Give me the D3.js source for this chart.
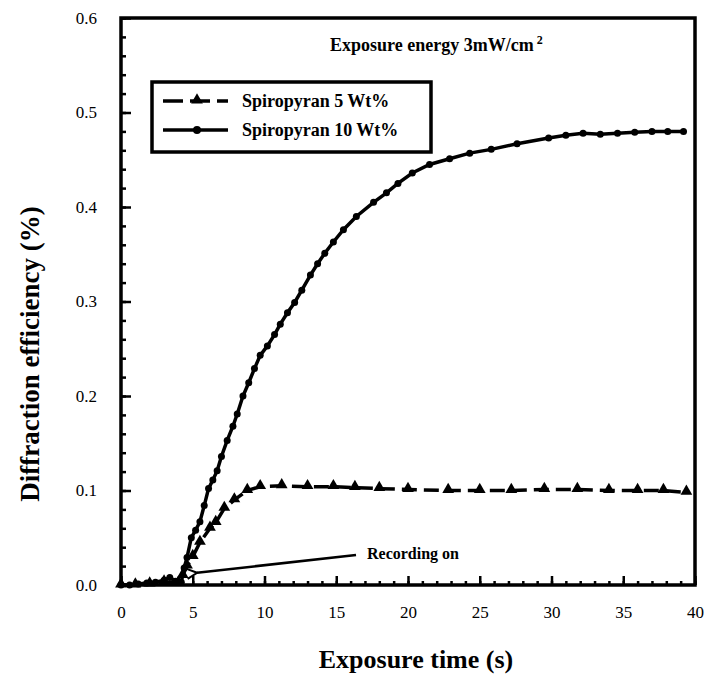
<!DOCTYPE html>
<html>
<head>
<meta charset="utf-8">
<script src="https://cdn.jsdelivr.net/npm/d3@7"></script>
<style>
  body { margin: 0; background: #fff; }
  svg text { font-family: "Liberation Serif", Tinos, "Times New Roman", serif !important; }
</style>
</head>
<body>
<div id="chart"></div>
<script>
// Spiropyran 10 Wt% (solid line, circles)
const time10 = [0, 0.6, 1.2, 1.8, 2.4, 3.0, 3.4, 3.8, 4.2, 4.4, 4.6, 4.9, 5.2, 5.5, 5.8, 6.1, 6.4, 6.7, 7.0, 7.4,
  7.8, 8.1, 8.5, 8.9, 9.3, 9.7, 10.2, 10.7, 11.1, 11.6, 12.1, 12.6, 13.2, 13.7, 14.2, 14.8, 15.5, 16.4, 17.6,
  18.5, 19.3, 20.3, 21.5, 22.9, 24.3, 25.8, 27.6, 29.8, 31.0, 32.2, 33.4, 34.6, 35.8, 37.0, 38.1, 39.2];
const eff10 = [0, 0, 0.001, 0.002, 0.003, 0.005, 0.008, 0.004, 0.003, 0.018, 0.029, 0.05, 0.058, 0.067, 0.084,
  0.102, 0.111, 0.121, 0.136, 0.153, 0.168, 0.181, 0.2, 0.214, 0.229, 0.243, 0.253, 0.265, 0.276, 0.288, 0.299,
  0.312, 0.328, 0.34, 0.351, 0.363, 0.376, 0.39, 0.405, 0.415, 0.425, 0.436, 0.445, 0.451, 0.457, 0.461, 0.467,
  0.473, 0.476, 0.478, 0.477, 0.478, 0.479, 0.48, 0.48, 0.48];

// Spiropyran 5 Wt% (dashed line, triangles)
const time5 = [0, 1, 2, 3, 4, 4.3, 4.6, 5.0, 5.5, 6.2, 6.6, 7.2, 7.9, 8.8, 9.7, 11.2, 13.0, 14.8, 16.3, 18.0,
  20.0, 22.8, 25.0, 27.2, 29.5, 31.8, 34.0, 36.0, 37.8, 39.4];
const eff5 = [0, 0, 0.001, 0.003, 0.002, 0.01, 0.02, 0.03, 0.045, 0.06, 0.066, 0.081, 0.09, 0.1, 0.104, 0.105,
  0.104, 0.104, 0.103, 0.102, 0.101, 0.1, 0.1, 0.1, 0.101, 0.101, 0.1, 0.1, 0.1, 0.098];

const xTicks = [0, 5, 10, 15, 20, 25, 30, 35, 40];
const yTicks = [0, 0.1, 0.2, 0.3, 0.4, 0.5, 0.6];
const seriesNames = ['Spiropyran 5 Wt%', 'Spiropyran 10 Wt%'];

const width = 705, height = 679;
const margin = { top: 18, right: 10, bottom: 94, left: 121 };

const svg = d3.select('#chart')
  .append('svg')
  .attr('width', width)
  .attr('height', height);

const x = d3.scaleLinear().domain([0, 40]).range([margin.left, width - margin.right]);
const y = d3.scaleLinear().domain([0, 0.6]).range([height - margin.bottom, margin.top]);

// minor ticks first
svg.append('g')
  .attr('transform', `translate(0,${y(0)})`)
  .call(d3.axisBottom(x).tickValues(d3.range(0, 41, 1)).tickSize(-4).tickFormat(''))
  .call((g) => g.select('.domain').remove())
  .call((g) => g.selectAll('line').attr('stroke-width', 2.5));

svg.append('g')
  .attr('transform', `translate(${x(0)},0)`)
  .call(d3.axisLeft(y).tickValues(d3.range(0, 0.61, 0.02)).tickSize(-5).tickFormat(''))
  .call((g) => g.select('.domain').remove())
  .call((g) => g.selectAll('line').attr('stroke-width', 2.5));

// major ticks with labels
svg.append('g')
  .attr('transform', `translate(0,${y(0)})`)
  .call(d3.axisBottom(x).tickValues(xTicks).tickSize(-9).tickPadding(21).tickFormat(d3.format('d')))
  .call((g) => g.select('.domain').remove())
  .call((g) => g.selectAll('line').attr('stroke-width', 2.5))
  .call((g) => g.selectAll('text').attr('font-size', 17));

svg.append('g')
  .attr('transform', `translate(${x(0)},0)`)
  .call(d3.axisLeft(y).tickValues(yTicks).tickSize(-10).tickPadding(24).tickFormat(d3.format('.1f')))
  .call((g) => g.select('.domain').remove())
  .call((g) => g.selectAll('line').attr('stroke-width', 2.5))
  .call((g) => g.selectAll('text').attr('font-size', 17));

// frame
svg.append('rect')
  .attr('x', x(0))
  .attr('y', y(0.6))
  .attr('width', x(40) - x(0))
  .attr('height', y(0) - y(0.6))
  .attr('fill', 'none')
  .attr('stroke', 'black')
  .attr('stroke-width', 3.5);

// series
const line = d3.line().x((d) => x(d[0])).y((d) => y(d[1]));
const data5 = time5.map((t, i) => [t, eff5[i]]);
const data10 = time10.map((t, i) => [t, eff10[i]]);
const triangle = d3.symbol().type(d3.symbolTriangle).size(60);

svg.append('path')
  .datum(data5)
  .attr('d', line)
  .attr('fill', 'none')
  .attr('stroke', 'black')
  .attr('stroke-width', 3.5)
  .attr('stroke-dasharray', '15,7');

svg.append('g')
  .selectAll('path')
  .data(data5)
  .enter()
  .append('path')
  .attr('d', triangle)
  .attr('transform', (d) => `translate(${x(d[0])},${y(d[1]) - 1})`)
  .attr('fill', 'black');

svg.append('path')
  .datum(data10)
  .attr('d', line)
  .attr('fill', 'none')
  .attr('stroke', 'black')
  .attr('stroke-width', 3.5);

svg.append('g')
  .selectAll('circle')
  .data(data10)
  .enter()
  .append('circle')
  .attr('cx', (d) => x(d[0]))
  .attr('cy', (d) => y(d[1]))
  .attr('r', 3.5)
  .attr('fill', 'black');

// title annotation
const title = svg.append('text')
  .attr('x', 330)
  .attr('y', 51)
  .attr('font-size', 18)
  .attr('font-weight', 'bold');
title.append('tspan').text('Exposure energy 3mW/cm');
title.append('tspan').attr('dy', -7).attr('dx', 3).attr('font-size', 12).text('2');

// legend
const legend = svg.append('g');
legend.append('rect')
  .attr('x', 152).attr('y', 82)
  .attr('width', 279).attr('height', 70)
  .attr('fill', 'white')
  .attr('stroke', 'black')
  .attr('stroke-width', 3.5);

[101, 130].forEach((ly, i) => {
  legend.append('line')
    .attr('x1', 163).attr('x2', 228)
    .attr('y1', ly).attr('y2', ly)
    .attr('stroke', 'black')
    .attr('stroke-width', 3.5)
    .attr('stroke-dasharray', i === 0 ? '20,7' : null);
  if (i === 0) {
    legend.append('path').attr('d', triangle).attr('transform', `translate(197,${ly - 1})`);
  } else {
    legend.append('circle').attr('cx', 197).attr('cy', ly).attr('r', 4);
  }
  legend.append('text')
    .attr('x', 242).attr('y', ly + 6)
    .attr('font-size', 18)
    .attr('font-weight', 'bold')
    .text(seriesNames[i]);
});

// "Recording on" arrow
svg.append('defs').append('marker')
  .attr('id', 'arrow')
  .attr('viewBox', '0 0 12 12')
  .attr('refX', 1).attr('refY', 6)
  .attr('markerWidth', 12).attr('markerHeight', 12)
  .attr('markerUnits', 'userSpaceOnUse')
  .attr('orient', 'auto-start-reverse')
  .append('path')
  .attr('d', 'M11,1 L1,6 L11,11')
  .attr('fill', 'none')
  .attr('stroke', 'black')
  .attr('stroke-width', 2);

svg.append('line')
  .attr('x1', x(5.3)).attr('y1', y(0.013))
  .attr('x2', 356).attr('y2', 555)
  .attr('stroke', 'black')
  .attr('stroke-width', 2.5)
  .attr('marker-start', 'url(#arrow)');

svg.append('text')
  .attr('x', 367).attr('y', 559)
  .attr('font-size', 16)
  .attr('font-weight', 'bold')
  .text('Recording on');

// axis titles
svg.append('text')
  .attr('x', 416).attr('y', 668)
  .attr('text-anchor', 'middle')
  .attr('font-size', 26)
  .attr('font-weight', 'bold')
  .text('Exposure time (s)');

svg.append('text')
  .attr('transform', 'translate(39,354) rotate(-90)')
  .attr('text-anchor', 'middle')
  .attr('font-size', 27)
  .attr('font-weight', 'bold')
  .text('Diffraction efficiency (%)');
</script>
</body>
</html>
